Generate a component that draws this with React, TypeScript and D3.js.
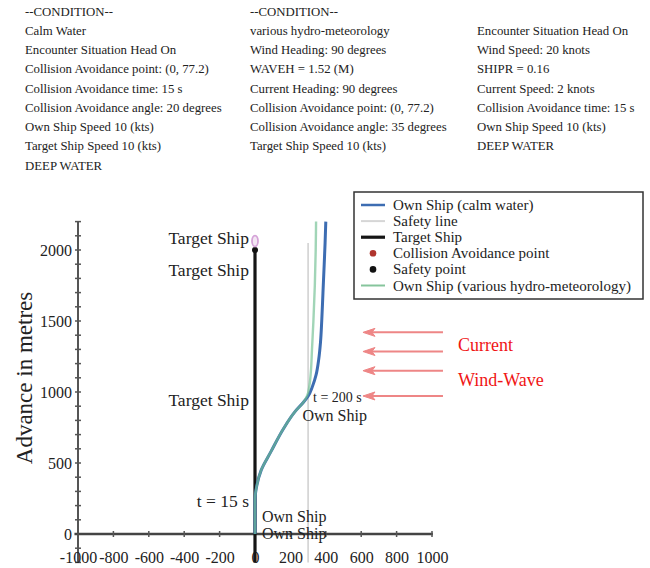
import React, { useEffect, useRef } from "react";
import * as d3 from "d3";

// Condition notes printed above the plot
const conditionCalm = [
  "--CONDITION--",
  "Calm Water",
  "Encounter Situation Head On",
  "Collision Avoidance point: (0, 77.2)",
  "Collision Avoidance time: 15 s",
  "Collision Avoidance angle: 20 degrees",
  "Own Ship Speed 10 (kts)",
  "Target Ship Speed 10 (kts)",
  "DEEP WATER",
];
const conditionHydroA = [
  "--CONDITION--",
  "various hydro-meteorology",
  "Wind Heading: 90 degrees",
  "WAVEH = 1.52 (M)",
  "Current Heading: 90 degrees",
  "Collision Avoidance point: (0, 77.2)",
  "Collision Avoidance angle: 35 degrees",
  "Target Ship Speed 10 (kts)",
];
const conditionHydroB = [
  "Encounter Situation Head On",
  "Wind Speed: 20 knots",
  "SHIPR = 0.16",
  "Current Speed: 2 knots",
  "Collision Avoidance time: 15 s",
  "Own Ship Speed 10 (kts)",
  "DEEP WATER",
];

// Tick values (metres)
const xTickValues = [-1000, -800, -600, -400, -200, 0, 200, 400, 600, 800, 1000];
const yTickValues = [0, 500, 1000, 1500, 2000];
const yMinorTicks = d3.range(-200, 2201, 100);

// Own ship track in calm water: [transfer, advance] in metres
const ownShipCalm: [number, number][] = [
  [0, 0], [0, 240], [10, 340], [35, 450], [90, 580], [160, 740], [225, 860],
  [275, 930], [300, 970], [325, 1040], [345, 1120], [360, 1230], [370, 1350],
  [377, 1500], [384, 1700], [391, 1900], [396, 2050], [400, 2200],
];
// Own ship track under wind, wave and current
const ownShipHydro: [number, number][] = [
  [0, 0], [0, 240], [10, 340], [35, 450], [90, 580], [160, 740], [225, 860],
  [275, 930], [295, 975], [308, 1050], [316, 1150], [322, 1300], [330, 1500],
  [338, 1750], [343, 2000], [345, 2200],
];
// Target ship (head on) runs along x = 0
const targetShip: [number, number][] = [[0, -200], [0, 2000]];
// Safety line at 300 m transfer
const safetyLine: [number, number][] = [[300, -200], [300, 2050]];
const targetMarkerY = 2063;
const targetSafetyY = 2000;

// Current / wind-wave arrows: advance values, running from x0 to x1
const envArrowsY = [1420, 1285, 1150, 972];
const envArrowX0 = 1062;
const envArrowX1 = 610;

const legendItems = [
  { label: "Own Ship (calm water)", kind: "line", color: "#3d6db2", width: 2.5 },
  { label: "Safety line", kind: "line", color: "#d6d6d6", width: 2 },
  { label: "Target Ship", kind: "line", color: "#151515", width: 3.2 },
  { label: "Collision Avoidance point", kind: "dot", color: "#b0352e", width: 0 },
  { label: "Safety point", kind: "dot", color: "#111111", width: 0 },
  { label: "Own Ship (various hydro-meteorology)", kind: "line", color: "#86c59c", width: 2 },
];

const SERIF = '"Liberation Serif", "Times New Roman", Times, serif';

export default function App() {
  const xAxisRef = useRef<SVGGElement>(null);
  const yAxisRef = useRef<SVGGElement>(null);

  const x = d3.scaleLinear().domain([-1000, 1000]).range([78, 432]);
  const y = d3.scaleLinear().domain([0, 2000]).range([534, 250]);

  const line = d3
    .line<[number, number]>()
    .x((d) => x(d[0]))
    .y((d) => y(d[1]))
    .curve(d3.curveMonotoneY);
  const straight = d3
    .line<[number, number]>()
    .x((d) => x(d[0]))
    .y((d) => y(d[1]));

  useEffect(() => {
    if (xAxisRef.current) {
      const g = d3.select(xAxisRef.current);
      g.selectAll("*").remove();
      g.call(
        d3
          .axisBottom(x)
          .tickValues(xTickValues)
          .tickSize(0)
          .tickPadding(17.5)
          .tickFormat((d) => String(d))
      );
      g.select(".domain").remove();
      g.selectAll("text")
        .attr("font-family", SERIF)
        .attr("font-size", 16)
        .attr("fill", "#222");
    }
    if (yAxisRef.current) {
      const g = d3.select(yAxisRef.current);
      g.selectAll("*").remove();
      g.call(
        d3
          .axisLeft(y)
          .tickValues(yTickValues)
          .tickSize(0)
          .tickPadding(6)
          .tickFormat((d) => String(d))
      );
      g.select(".domain").remove();
      g.selectAll("text")
        .attr("font-family", SERIF)
        .attr("font-size", 16)
        .attr("fill", "#222");
    }
  });

  const headerX = [25, 250, 477];
  const rowY = (i: number) => 15.5 + i * 19.25;

  const legendX = 354;
  const legendY = 192;
  const legendRow = (i: number) => 205 + i * 16.1;

  return (
    <svg
      width={650}
      height={568}
      style={{ position: "absolute", left: 0, top: 0, background: "#fff" }}
      fontFamily={SERIF}
    >
      {/* condition notes */}
      <g fontSize={12.8} fill="#222">
        {conditionCalm.map((t, i) => (
          <text key={"a" + i} x={headerX[0]} y={rowY(i)}>{t}</text>
        ))}
        {conditionHydroA.map((t, i) => (
          <text key={"b" + i} x={headerX[1]} y={rowY(i)}>{t}</text>
        ))}
        {conditionHydroB.map((t, i) => (
          <text key={"c" + i} x={headerX[2]} y={rowY(i + 1)}>{t}</text>
        ))}
      </g>

      {/* safety line */}
      <path d={straight(safetyLine) || ""} stroke="#d2d2d2" strokeWidth={1.6} fill="none" />

      {/* y axis with 100 m ticks */}
      <line x1={x(-1000)} x2={x(-1000)} y1={y(-200)} y2={y(2200)} stroke="#555" strokeWidth={2} />
      {yMinorTicks.map((v) => (
        <line key={v} x1={x(-1000) - 3} x2={x(-1000) + 3} y1={y(v)} y2={y(v)} stroke="#555" strokeWidth={1.5} />
      ))}
      {/* x axis */}
      <line x1={x(-1020)} x2={x(1005)} y1={y(0)} y2={y(0)} stroke="#444" strokeWidth={2.5} />
      {xTickValues.map((v) => (
        <line key={v} x1={x(v)} x2={x(v)} y1={y(0) - 3} y2={y(0) + 3} stroke="#555" strokeWidth={1.5} />
      ))}
      <g ref={xAxisRef} transform={`translate(0,${y(0)})`} />
      <g ref={yAxisRef} transform={`translate(${x(-1000)},0)`} />

      <text
        transform={`translate(32,378) rotate(-90)`}
        textAnchor="middle"
        fontSize={23}
        fill="#222"
      >
        Advance in metres
      </text>

      {/* target ship */}
      <path d={straight(targetShip) || ""} stroke="#151515" strokeWidth={3.2} fill="none" />
      <circle cx={x(0)} cy={y(targetSafetyY)} r={3} fill="#111" />
      <ellipse cx={x(0)} cy={y(targetMarkerY)} rx={3} ry={5.5} fill="#f3e6f3" stroke="#d5a3d8" strokeWidth={1.8} />

      {/* own ship tracks */}
      <path d={line(ownShipCalm) || ""} stroke="#3d6db2" strokeWidth={3} fill="none" />
      <path d={line(ownShipHydro) || ""} stroke="#6fbf90" strokeWidth={2.4} strokeOpacity={0.65} fill="none" />

      {/* current and wind-wave arrows */}
      {envArrowsY.map((v, i) => {
        const ax0 = x(envArrowX0);
        const ax1 = x(envArrowX1);
        const ay = y(v);
        return (
          <g key={i} stroke="#ee8686" fill="#ee8686">
            <line x1={ax0} x2={ax1 + 4} y1={ay} y2={ay} strokeWidth={2} />
            <path d={`M${ax1},${ay} L${ax1 + 12},${ay - 4} L${ax1 + 9},${ay} L${ax1 + 12},${ay + 4} Z`} strokeWidth={1} />
          </g>
        );
      })}
      <text x={458} y={351} fontSize={18} fill="#f01515">Current</text>
      <text x={458} y={386} fontSize={18} fill="#f01515">Wind-Wave</text>

      {/* annotations */}
      <g fill="#222">
        <text x={249} y={244} fontSize={17.5} textAnchor="end">Target Ship</text>
        <text x={249} y={276} fontSize={17.5} textAnchor="end">Target Ship</text>
        <text x={249} y={406} fontSize={17.5} textAnchor="end">Target Ship</text>
        <text x={249} y={507} fontSize={17.5} textAnchor="end">t = 15 s</text>
        <text x={262} y={522} fontSize={16}>Own Ship</text>
        <text x={262} y={539} fontSize={16}>Own Ship</text>
        <text x={313} y={401.5} fontSize={14}>t = 200 s</text>
        <text x={302.5} y={421} fontSize={16}>Own Ship</text>
      </g>

      {/* legend */}
      <rect x={legendX} y={legendY} width={289} height={107} fill="#fff" stroke="#333" strokeWidth={1.5} />
      {legendItems.map((it, i) => {
        const ly = legendRow(i);
        return (
          <g key={it.label}>
            {it.kind === "line" ? (
              <line x1={361} x2={385} y1={ly} y2={ly} stroke={it.color} strokeWidth={it.width} />
            ) : (
              <circle cx={373} cy={ly} r={3.3} fill={it.color} />
            )}
            <text x={393} y={ly + 5} fontSize={15} fill="#222">{it.label}</text>
          </g>
        );
      })}
    </svg>
  );
}
